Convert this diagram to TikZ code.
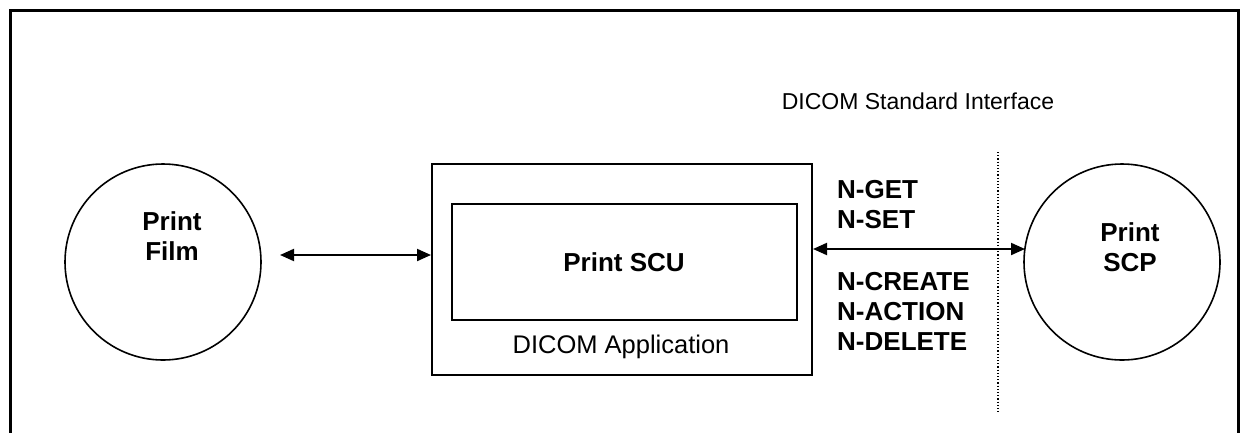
\documentclass[tikz,border=0pt]{standalone}
\usepackage{fontspec}
\setmainfont{Liberation Sans}
\usetikzlibrary{arrows.meta}
\tikzset{
  frame/.style={line width=3pt, line cap=rect},
  ring/.style={circle, draw, line width=1.6pt, minimum size=196pt, inner sep=0pt},
  boxline/.style={draw, line width=2pt, inner sep=0pt},
  conn/.style={line width=2pt, {Triangle[length=14pt,width=12pt]}-{Triangle[length=14pt,width=12pt]}},
  bold/.style={font=\fontsize{26}{30}\selectfont\bfseries, inner sep=0pt},
  plain/.style={font=\fontsize{25.5}{30}\selectfont, inner sep=0pt},
  sep/.style={line width=1.2pt, dotted}
}
\begin{document}
\begin{tikzpicture}[x=1pt,y=-1pt]
\useasboundingbox (0,0) rectangle (1241,432);
\draw[frame] (10,440) -- (10,10) -- (1238,10) -- (1238,440);
% circles
\node[ring] (film) at (163,262) {};
\node[ring] (scp) at (1122,262) {};
\node[bold, align=center] (filmtxt) at (172,236) {Print\\Film};
\node[bold, align=center] (scptxt) at (1130,247) {Print\\SCP};
% application boxes
\node[boxline, minimum width=380pt, minimum height=211pt] (app) at (622,269.5) {};
\node[boxline, minimum width=345pt, minimum height=116pt] (scu) at (624.5,262) {};
\node[bold, anchor=base] (scutxt) at (624,271) {Print SCU};
\node[plain, anchor=base] (apptxt) at (621,353) {DICOM Application};
% interface
\node[plain, font=\fontsize{23}{28}\selectfont, anchor=base] (ifc) at (918,109) {DICOM Standard Interface};
\coordinate (dtop) at (998,152);
\coordinate (dbot) at (998,413);
\draw[sep] (dtop) -- (dbot);
% connectors
\coordinate (fa) at (280,255);
\draw[conn] (fa) -- (fa -| app.west);
\coordinate (ra) at (app.east |- 0,249);
\draw[conn] (ra) -- (1025,249) coordinate (rb);
% service labels
\node[bold, anchor=base west] (nget) at (837,198) {N-GET};
\node[bold, anchor=base west] (nset) at (837,228) {N-SET};
\node[bold, anchor=base west] (ncreate) at (837,290) {N-CREATE};
\node[bold, anchor=base west] (naction) at (837,320) {N-ACTION};
\node[bold, anchor=base west] (ndelete) at (837,350) {N-DELETE};
\end{tikzpicture}
\end{document}
